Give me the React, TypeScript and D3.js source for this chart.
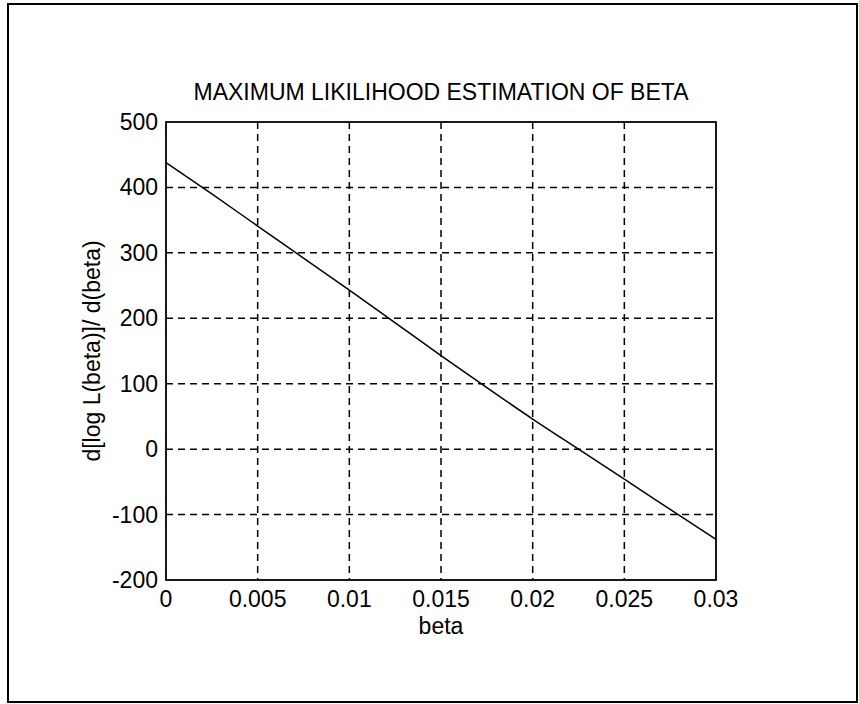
import { useEffect, useRef } from "react";
import * as d3 from "d3";

const betaValues = [0, 0.0025, 0.005, 0.0075, 0.01, 0.0125, 0.015, 0.0175, 0.02, 0.0225, 0.025, 0.0275, 0.03];
const derivValues = [438, 390, 341, 292, 243, 193, 143, 94, 46, 0, -46, -92, -138];
const xTicks = [0, 0.005, 0.01, 0.015, 0.02, 0.025, 0.03];
const xTickLabels = ["0", "0.005", "0.01", "0.015", "0.02", "0.025", "0.03"];
const yTicks = [-200, -100, 0, 100, 200, 300, 400, 500];

const chartTitle = "MAXIMUM LIKILIHOOD ESTIMATION OF BETA";
const xLabel = "beta";
const yLabel = "d[log L(beta)]/ d(beta)";

export default function App() {
  const ref = useRef<SVGSVGElement | null>(null);

  useEffect(() => {
    if (!ref.current) return;
    const svg = d3.select(ref.current);
    svg.selectAll("*").remove();

    const W = 859;
    const H = 704;
    const left = 166;
    const right = 716;
    const top = 122;
    const bottom = 580;
    const font = "'Liberation Sans', Arial, sans-serif";
    const fs = 23;

    // outer frame
    svg.append("rect")
      .attr("x", 8).attr("y", 4)
      .attr("width", W - 10).attr("height", H - 6)
      .attr("fill", "#fff")
      .attr("stroke", "#000")
      .attr("stroke-width", 2);

    const x = d3.scaleLinear().domain([0, 0.03]).range([left, right]);
    const y = d3.scaleLinear().domain([-200, 500]).range([bottom, top]);

    const grid = svg.append("g")
      .attr("stroke", "#000")
      .attr("stroke-width", 1.5)
      .attr("stroke-dasharray", "7,5");

    grid.selectAll("line.vx")
      .data(xTicks.slice(1, -1))
      .enter()
      .append("line")
      .attr("x1", (d) => x(d)).attr("x2", (d) => x(d))
      .attr("y1", top).attr("y2", bottom);

    grid.selectAll("line.hy")
      .data(yTicks.slice(1, -1))
      .enter()
      .append("line")
      .attr("x1", left).attr("x2", right)
      .attr("y1", (d) => y(d)).attr("y2", (d) => y(d));

    // axis box
    svg.append("rect")
      .attr("x", left).attr("y", top)
      .attr("width", right - left).attr("height", bottom - top)
      .attr("fill", "none")
      .attr("stroke", "#000")
      .attr("stroke-width", 1.8);

    const line = d3.line<number>()
      .x((_, i) => x(betaValues[i]))
      .y((d) => y(d))
      .curve(d3.curveMonotoneX);

    svg.append("path")
      .datum(derivValues)
      .attr("d", line)
      .attr("fill", "none")
      .attr("stroke", "#000")
      .attr("stroke-width", 1.5);

    // tick labels
    svg.selectAll("text.xt")
      .data(xTicks)
      .enter()
      .append("text")
      .attr("x", (d) => x(d))
      .attr("y", bottom + 27)
      .attr("text-anchor", "middle")
      .attr("font-family", font)
      .attr("font-size", fs)
      .text((_, i) => xTickLabels[i]);

    svg.selectAll("text.yt")
      .data(yTicks)
      .enter()
      .append("text")
      .attr("x", left - 8)
      .attr("y", (d) => y(d) + 8)
      .attr("text-anchor", "end")
      .attr("font-family", font)
      .attr("font-size", fs)
      .text((d) => String(d));

    svg.append("text")
      .attr("x", (left + right) / 2)
      .attr("y", 100)
      .attr("text-anchor", "middle")
      .attr("font-family", font)
      .attr("font-size", fs)
      .text(chartTitle);

    svg.append("text")
      .attr("x", (left + right) / 2)
      .attr("y", 634)
      .attr("text-anchor", "middle")
      .attr("font-family", font)
      .attr("font-size", fs)
      .text(xLabel);

    svg.append("text")
      .attr("transform", `translate(100,${(top + bottom) / 2}) rotate(-90)`)
      .attr("text-anchor", "middle")
      .attr("font-family", font)
      .attr("font-size", fs)
      .text(yLabel);
  }, []);

  return (
    <svg
      ref={ref}
      width={859}
      height={704}
      style={{ position: "absolute", left: 0, top: 0, background: "#fff" }}
    />
  );
}
